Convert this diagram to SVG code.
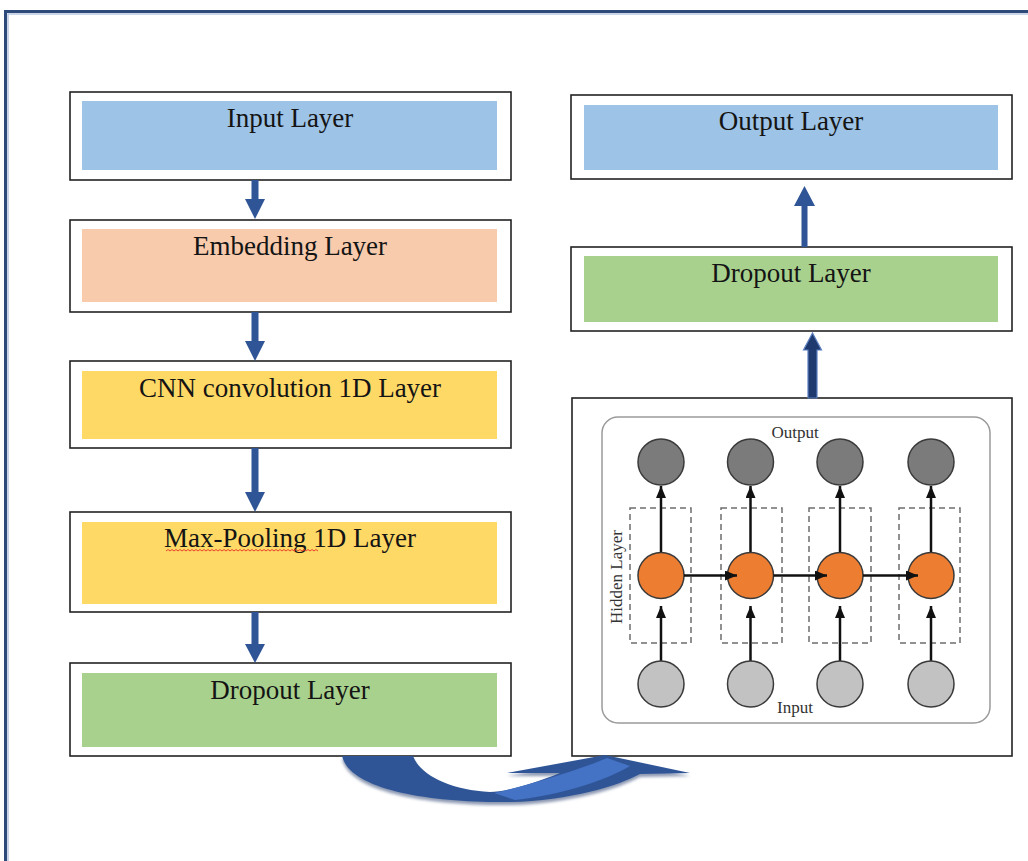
<svg xmlns="http://www.w3.org/2000/svg" width="1028" height="861" viewBox="0 0 1028 861">
  <defs>
    <style>
      .frame{fill:none;stroke:#2E4A7A;stroke-width:3}
      .frame-in{fill:none;stroke:#B9C8E0;stroke-width:1.5}
      .box{fill:#fff;stroke:#222;stroke-width:1.6}
      .lbl{font-family:"Liberation Serif","Times New Roman",serif;font-size:27px;fill:#141414;text-anchor:middle}
      .small{font-family:"Liberation Serif","Times New Roman",serif;font-size:17px;fill:#333;text-anchor:middle}
      .blue{fill:#2F5597}
      .navy{fill:#1F3A6E;stroke:#5B7FC0;stroke-width:1.2}
      .inner{fill:#fff;stroke:#9A9A9A;stroke-width:1.5}
      .cell{fill:none;stroke:#6E6E6E;stroke-width:1.5;stroke-dasharray:6 4}
      .out{fill:#7B7B7B;stroke:#3A3A3A;stroke-width:1.5}
      .hid{fill:#ED7D31;stroke:#3A3A3A;stroke-width:1.5}
      .inp{fill:#C2C2C2;stroke:#3A3A3A;stroke-width:1.5}
      .link{stroke:#111;stroke-width:2.5;fill:none;marker-end:url(#ah)}
      .wavy{fill:none;stroke:#E8412C;stroke-width:1}
    </style>
    <marker id="ah" viewBox="0 0 12 10" refX="12" refY="5" markerWidth="12" markerHeight="10" markerUnits="userSpaceOnUse" orient="auto">
      <path d="M0 0 L12 5 L0 10 Z" fill="#111"/>
    </marker>
    <filter id="soft" x="-10%" y="-10%" width="120%" height="140%">
      <feGaussianBlur stdDeviation="1.5"/>
    </filter>
  </defs>

  <rect width="1028" height="861" fill="#fff"/>

  <!-- page frame -->
  <rect class="frame-in" x="8" y="14" width="1100" height="900"/>
  <rect class="frame" x="5.5" y="11.5" width="1100" height="900"/>

  <!-- left column -->
  <g id="input-layer">
    <rect class="box" x="70" y="92" width="441" height="88"/>
    <rect x="82" y="101" width="415" height="69" fill="#9DC3E6"/>
    <text class="lbl" x="290" y="127">Input Layer</text>
  </g>
  <g id="embedding-layer">
    <rect class="box" x="70" y="220" width="441" height="92"/>
    <rect x="82" y="229" width="415" height="73" fill="#F8CBAD"/>
    <text class="lbl" x="290" y="255">Embedding Layer</text>
  </g>
  <g id="cnn-layer">
    <rect class="box" x="70" y="361" width="441" height="87"/>
    <rect x="82" y="371" width="415" height="68" fill="#FFD966"/>
    <text class="lbl" x="290" y="397">CNN convolution 1D Layer</text>
  </g>
  <g id="maxpool-layer">
    <rect class="box" x="70" y="512" width="441" height="100"/>
    <rect x="82" y="522" width="415" height="82" fill="#FFD966"/>
    <text class="lbl" x="290" y="547">Max-Pooling 1D Layer</text>
    <path class="wavy" d="M166 551 l2 -1.5 l2 1.5 l2 -1.5 l2 1.5 l2 -1.5 l2 1.5 l2 -1.5 l2 1.5 l2 -1.5 l2 1.5 l2 -1.5 l2 1.5 l2 -1.5 l2 1.5 l2 -1.5 l2 1.5 l2 -1.5 l2 1.5 l2 -1.5 l2 1.5 l2 -1.5 l2 1.5 l2 -1.5 l2 1.5 l2 -1.5 l2 1.5 l2 -1.5 l2 1.5 l2 -1.5 l2 1.5 l2 -1.5 l2 1.5 l2 -1.5 l2 1.5 l2 -1.5 l2 1.5 l2 -1.5 l2 1.5 l2 -1.5 l2 1.5 l2 -1.5 l2 1.5 l2 -1.5 l2 1.5 l2 -1.5 l2 1.5 l2 -1.5 l2 1.5 l2 -1.5 l2 1.5 l2 -1.5 l2 1.5 l2 -1.5 l2 1.5 l2 -1.5 l2 1.5 l2 -1.5 l2 1.5 l2 -1.5 l2 1.5 l2 -1.5 l2 1.5 l2 -1.5 l2 1.5 l2 -1.5 l2 1.5 l2 -1.5 l2 1.5 l2 -1.5 l2 1.5 l2 -1.5 l2 1.5 l2 -1.5 l2 1.5 l2 -1.5 l2 1.5"/>
  </g>
  <g id="dropout-left">
    <rect class="box" x="70" y="663" width="441" height="93"/>
    <rect x="82" y="673" width="415" height="74" fill="#A9D18E"/>
    <text class="lbl" x="290" y="699">Dropout Layer</text>
  </g>

  <!-- right column -->
  <g id="output-layer">
    <rect class="box" x="571" y="95" width="441" height="84"/>
    <rect x="584" y="105" width="414" height="65" fill="#9DC3E6"/>
    <text class="lbl" x="791" y="130">Output Layer</text>
  </g>
  <g id="dropout-right">
    <rect class="box" x="571" y="247" width="441" height="84"/>
    <rect x="584" y="256" width="414" height="66" fill="#A9D18E"/>
    <text class="lbl" x="791" y="282">Dropout Layer</text>
  </g>

  <g id="rnn-block">
    <rect class="box" x="572" y="398" width="440" height="358"/>
    <rect class="inner" x="602" y="417" width="388" height="306" rx="16"/>
    <text class="small" x="795" y="438">Output</text>
    <text class="small" x="795" y="713">Input</text>
    <text class="small" font-size="18" transform="translate(622 577) rotate(-90)">Hidden Layer</text>

    <rect class="cell" x="630" y="508" width="61" height="135"/>
    <rect class="cell" x="721" y="508" width="61" height="135"/>
    <rect class="cell" x="809" y="508" width="62" height="135"/>
    <rect class="cell" x="899" y="508" width="61" height="135"/>

    <g id="rnn-links">
      <line class="link" x1="661" y1="661" x2="661" y2="606"/>
      <line class="link" x1="750.5" y1="661" x2="750.5" y2="606"/>
      <line class="link" x1="840" y1="661" x2="840" y2="606"/>
      <line class="link" x1="931" y1="661" x2="931" y2="606"/>
      <line class="link" x1="661" y1="552" x2="661" y2="486"/>
      <line class="link" x1="750.5" y1="552" x2="750.5" y2="486"/>
      <line class="link" x1="840" y1="552" x2="840" y2="486"/>
      <line class="link" x1="931" y1="552" x2="931" y2="486"/>
    </g>

    <circle class="out" cx="661" cy="462" r="23"/>
    <circle class="out" cx="750.5" cy="462" r="23"/>
    <circle class="out" cx="840" cy="462" r="23"/>
    <circle class="out" cx="931" cy="462" r="23"/>

    <circle class="hid" cx="661" cy="575.5" r="23"/>
    <circle class="hid" cx="750.5" cy="575.5" r="23"/>
    <circle class="hid" cx="840" cy="575.5" r="23"/>
    <circle class="hid" cx="931" cy="575.5" r="23"/>

    <circle class="inp" cx="661" cy="684" r="23"/>
    <circle class="inp" cx="750.5" cy="684" r="23"/>
    <circle class="inp" cx="840" cy="684" r="23"/>
    <circle class="inp" cx="931" cy="684" r="23"/>

    <!-- recurrent links drawn over the hidden units -->
    <line class="link" x1="684" y1="575.5" x2="737" y2="575.5"/>
    <line class="link" x1="773.5" y1="575.5" x2="827" y2="575.5"/>
    <line class="link" x1="863" y1="575.5" x2="918" y2="575.5"/>
  </g>

  <!-- flow connectors -->
  <g id="connectors">
    <path class="blue" d="M251.5 180 H258.5 V199 H265 L255 219 L245 199 H251.5 Z"/>
    <path class="blue" d="M251.5 312 H258.5 V341 H265 L255 361 L245 341 H251.5 Z"/>
    <path class="blue" d="M251.5 448 H258.5 V492 H265 L255 512 L245 492 H251.5 Z"/>
    <path class="blue" d="M251.5 612 H258.5 V644 H265 L255 663 L245 644 H251.5 Z"/>

    <path class="blue" d="M801.5 247 V206 H794 L804.5 186 L815 206 H807.5 V247 Z"/>
    <path class="navy" d="M808 398 V350 H803.5 L812.5 333 L821.5 350 H817 V398 Z"/>

    <!-- curved hand-over arrow -->
    <path d="M342 759 C350 793 430 806 510 805 C570 804 620 788 640 777 L690 776 L605 758 L507 776 L560 776 C530 788 505 795 490 795 C450 793 420 778 413 759 Z" fill="#8E9AB3" filter="url(#soft)"/>
    <path d="M342 756 C350 790 430 803 510 802 C570 801 620 785 640 774 L690 773 L605 755 L507 773 L560 773 C530 785 505 792 490 792 C450 790 420 775 413 756 Z" fill="#2F5597"/>
    <path d="M494 793 C525 786 558 776 592 764 L607 758 L630 766 C605 781 560 795 515 800 Z" fill="#4472C4"/>
  </g>
</svg>
